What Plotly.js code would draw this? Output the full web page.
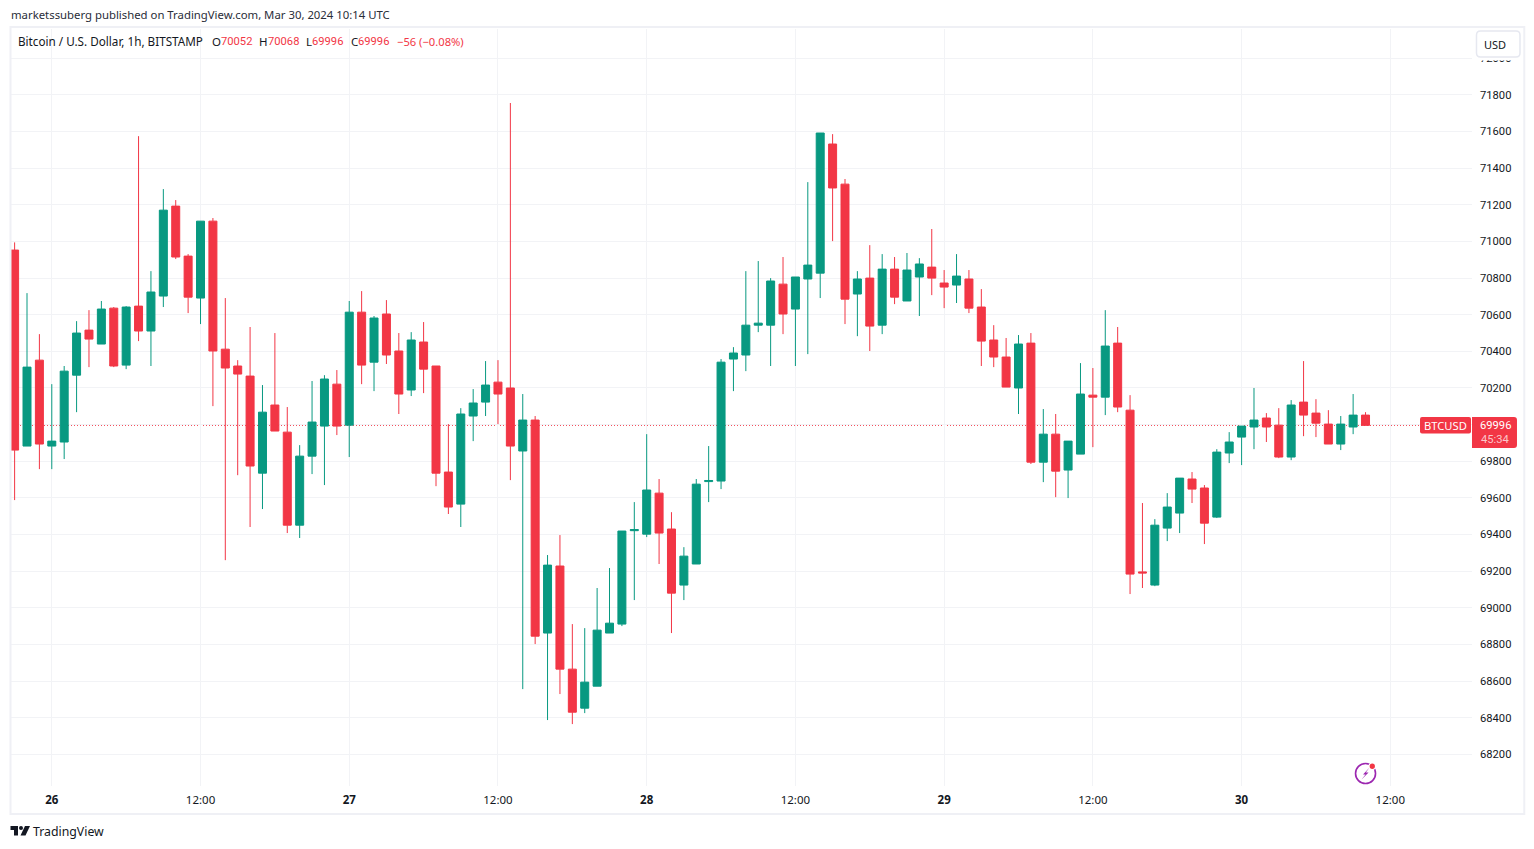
<!DOCTYPE html>
<html>
<head>
<meta charset="utf-8">
<script src="https://cdn.plot.ly/plotly-3.0.1.min.js"></script>
<style>html,body{margin:0;padding:0;background:#fff}#c{width:1534px;height:849px}</style>
</head>
<body>
<div id="c"></div>
<script>
const startHour = '2024-03-25T21:00:00Z';
const opens = [70953,69883,70352,69883,69905,70270,70516,70440,70636,70325,
70647,70511,70702,71193,70920,70691,71111,70412,70320,70265,
69735,70107,69959,69451,69828,69992,70221,69997,70614,70341,
70604,70402,70189,70451,70320,69741,69566,70047,70123,70232,
70200,69856,70025,68862,69228,68665,68452,68572,68862,68911,
69421,69402,69626,69430,69124,69239,69689,69692,70358,70380,
70543,70543,70767,70631,70795,70827,71532,71313,70713,70800,
70543,70849,70675,70806,70860,70773,70762,70795,70642,70462,
70369,70200,70445,69795,69948,69752,69839,70161,70150,70445,
70079,69196,69124,69435,69517,69703,69654,69495,69845,69932,
69987,70036,69997,69823,70123,70063,70003,69894,69987,70052];
const highs = [70995,70718,70494,70221,70320,70565,70625,70675,70642,70647,
71575,70838,71286,71226,70931,71111,71128,70691,70352,70533,
70216,70500,70096,69888,70238,70270,70298,70675,70729,70593,
70680,70500,70505,70560,70320,70003,70090,70194,70347,70352,
71756,70167,70047,69288,69397,68911,68889,69108,69217,69419,
69577,69948,69703,69522,69331,69703,69883,70358,70423,70838,
70893,70800,70915,70806,71324,71592,71586,71341,70838,70980,
70931,70915,70937,70909,71068,70844,70931,70844,70740,70543,
70473,70489,70500,70085,70058,69910,70336,70309,70625,70533,
70161,69572,69484,69626,69708,69741,69670,69866,69959,69992,
70200,70063,70090,70134,70347,70139,70079,70047,70167,70068];
const lows = [69588,69883,69757,69757,69812,70068,70314,70440,70314,70303,
70456,70320,70642,70904,70609,70549,70101,69260,69724,69441,
69539,69965,69408,69381,69730,69670,69943,69823,70221,70183,
70331,70058,70156,70172,69664,69512,69441,69910,70047,70003,
69697,68556,68802,68387,68529,68365,68425,68572,68862,68900,
69042,69386,69239,68862,69042,69239,69577,69648,70183,70292,
70505,70320,70494,70320,70385,70691,71002,70549,70483,70402,
70494,70658,70675,70593,70707,70636,70664,70609,70320,70314,
70205,70058,69785,69686,69604,69599,69839,69877,70052,70068,
69075,69108,69118,69364,69408,69572,69348,69490,69790,69779,
69866,69905,69817,69806,69937,69932,69894,69861,69948,69996];
const closes = [69861,70314,69894,69910,70292,70500,70467,70631,70320,70642,
70511,70724,71171,70915,70696,71111,70402,70309,70276,69774,
70068,69965,69451,69828,70014,70249,69992,70614,70325,70582,
70380,70167,70462,70303,69735,69550,70058,70118,70216,70167,
69883,70025,68845,69233,68665,68430,68594,68878,68916,69419,
69427,69643,69408,69080,69282,69675,69695,70341,70391,70543,
70554,70784,70604,70806,70871,71592,71292,70685,70795,70538,
70849,70696,70844,70877,70800,70751,70811,70636,70456,70369,
70205,70440,69795,69948,69746,69910,70167,70150,70429,70096,
69184,69190,69451,69550,69708,69648,69462,69850,69905,69992,
70025,69987,69823,70107,70052,70008,69894,70003,70052,69996];
const yTicks = [68200,68400,68600,68800,69000,69200,69400,69600,69800,70000,70200,70400,70600,70800,71000,71200,71400,71600,71800,72000];
const xTickVals = ['2024-03-26 00:00','2024-03-26 12:00','2024-03-27 00:00','2024-03-27 12:00','2024-03-28 00:00','2024-03-28 12:00','2024-03-29 00:00','2024-03-29 12:00','2024-03-30 00:00','2024-03-30 12:00'];
const xTickText = ['<b>26</b>','12:00','<b>27</b>','12:00','<b>28</b>','12:00','<b>29</b>','12:00','<b>30</b>','12:00'];
const lastPrice = 69996;

const UP = '#089981', DOWN = '#F23645', INK = '#131722', GRID = '#f2f3f6';
const FONT = '"Noto Sans", sans-serif', NUM = 'Roboto, sans-serif';
const W = 1534, H = 849, L = 10.5, R = 1472, T = 29, B = 786;
const px = x => (x - L) / (R - L);
const py = y => (B - y) / (B - T);

const t0 = Date.parse(startHour);
const times = opens.map((_, i) => new Date(t0 + i * 3600000).toISOString().slice(0, 16).replace('T', ' '));

const txt = (text, x, y, size, color, anchor, family) => ({
  text, x: px(x), y: py(y), xref: 'paper', yref: 'paper', showarrow: false,
  xanchor: anchor || 'left', yanchor: 'middle', borderpad: 0, borderwidth: 0,
  font: { family: family || FONT, size, color }
});
const poly = (pts, fill) => ({
  type: 'path', xref: 'paper', yref: 'paper', layer: 'above',
  path: 'M' + pts.map(p => px(p[0]) + ',' + py(p[1])).join('L') + 'Z',
  fillcolor: fill, line: { width: 0 }
});
const rrect = (x0, y0, x1, y1, rl, rr, fill, line) => ({
  type: 'path', xref: 'paper', yref: 'paper', layer: 'above',
  path: `M${px(x0 + rl)},${py(y0)}L${px(x1 - rr)},${py(y0)}Q${px(x1)},${py(y0)} ${px(x1)},${py(y0 + rr)}` +
        `L${px(x1)},${py(y1 - rr)}Q${px(x1)},${py(y1)} ${px(x1 - rr)},${py(y1)}L${px(x0 + rl)},${py(y1)}` +
        `Q${px(x0)},${py(y1)} ${px(x0)},${py(y1 - rl)}L${px(x0)},${py(y0 + rl)}Q${px(x0)},${py(y0)} ${px(x0 + rl)},${py(y0)}Z`,
  fillcolor: fill, line: line ? { color: line, width: 1.5 } : { width: 0 }
});
const paperShape = (type, x0, y0, x1, y1, fill, lineColor, lw) => ({
  type, xref: 'paper', yref: 'paper', layer: 'above',
  x0: px(x0), x1: px(x1), y0: py(y0), y1: py(y1),
  fillcolor: fill, line: lw ? { color: lineColor, width: lw } : { width: 0 }
});

const shapes = [
  { type: 'line', xref: 'paper', yref: 'y', layer: 'between', x0: 0, x1: px(1420), y0: lastPrice, y1: lastPrice,
    line: { color: DOWN, width: 1, dash: '1px,2px' } },
  paperShape('rect', 10, 27, 1524.3, 814, 'rgba(0,0,0,0)', '#eff0f5', 2),
  paperShape('rect', 1473, 29, 1523, 60.5, '#ffffff'),
  rrect(1476.5, 31, 1520, 57, 4, 4, '#ffffff', '#e6e8f0'),
  rrect(1420, 417, 1471, 433.5, 2, 2, DOWN),
  rrect(1472, 417, 1517, 448, 0, 3, DOWN),
  paperShape('circle', 1355.5, 763.5, 1375.5, 783.5, 'rgba(0,0,0,0)', '#9C27B0', 1.6),
  poly([[1369.5,767.5],[1363,774.5],[1365.5,774.5],[1361.5,779.5],[1368.5,772.5],[1365.8,772.5]], '#9C27B0'),
  paperShape('circle', 1368.5, 762.5, 1376, 770, '#ffffff'),
  paperShape('circle', 1369.6, 763.6, 1374.9, 768.9, DOWN),
  poly([[10,826],[17.5,826],[17.5,835.5],[13.5,835.5],[13.5,830],[10,830]], INK),
  paperShape('circle', 18.5, 826, 22.5, 830, INK),
  poly([[24.5,826],[29.5,826],[25,835.5],[20,835.5]], INK)
];

const annotations = [
  txt('marketssuberg published on TradingView.com, Mar 30, 2024 10:14 UTC', 10, 14.5, 11.35, '#2a2e39'),
  txt('Bitcoin / U.S. Dollar, 1h, BITSTAMP', 18, 41.5, 11.7, INK),
  txt('O', 212, 41.5, 11.5, INK), txt('70052', 220.7, 41.5, 11.2, DOWN, 'left', NUM),
  txt('H', 258.7, 41.5, 11.5, INK), txt('70068', 267.3, 41.5, 11.2, DOWN, 'left', NUM),
  txt('L', 305.3, 41.5, 11.5, INK), txt('69996', 311.7, 41.5, 11.2, DOWN, 'left', NUM),
  txt('C', 350.3, 41.5, 11.5, INK), txt('69996', 357.3, 41.5, 11.2, DOWN, 'left', NUM),
  txt('−56 (−0.08%)', 396.7, 41.5, 11.2, DOWN),
  txt('USD', 1495, 44.5, 11, INK, 'center'),
  txt('BTCUSD', 1445.5, 425.3, 11.2, '#ffffff', 'center'),
  txt('69996', 1495.5, 425.3, 11.2, '#ffffff', 'center', NUM),
  txt('45:34', 1495.5, 439.5, 11.2, 'rgba(255,255,255,0.72)', 'center', NUM),
  txt('TradingView', 33, 831, 12.3, INK)
];

const trace = {
  type: 'candlestick', x: times, open: opens, high: highs, low: lows, close: closes,
  whiskerwidth: 0, hoverinfo: 'skip',
  increasing: { line: { color: UP, width: 1 }, fillcolor: UP },
  decreasing: { line: { color: DOWN, width: 1 }, fillcolor: DOWN }
};

const layout = {
  width: W, height: H, showlegend: false, dragmode: false,
  paper_bgcolor: '#ffffff', plot_bgcolor: '#ffffff',
  margin: { l: L, r: W - R, t: T, b: H - B, pad: 0 },
  boxgap: 0.355, boxgroupgap: 0,
  font: { family: FONT, size: 11, color: INK },
  xaxis: {
    type: 'date', range: ['2024-03-25 20:42:32', '2024-03-30 18:35:24'],
    rangeslider: { visible: false },
    tickmode: 'array', tickvals: xTickVals, ticktext: xTickText,
    showgrid: true, gridcolor: GRID, gridwidth: 1, zeroline: false, showline: false,
    ticks: '', tickangle: 0, ticklabelstandoff: 5,
    tickfont: { family: FONT, size: 11.5, color: INK }
  },
  yaxis: {
    side: 'right', range: [68027, 72160],
    tickmode: 'array', tickvals: yTicks, ticktext: yTicks.map(String),
    showgrid: true, gridcolor: GRID, gridwidth: 1, zeroline: false, showline: false,
    ticks: '', ticklabelstandoff: 7,
    tickfont: { family: NUM, size: 11.2, color: INK }
  },
  shapes, annotations
};
Plotly.newPlot('c', [trace], layout, { displayModeBar: false, staticPlot: true });
</script>
</body>
</html>
